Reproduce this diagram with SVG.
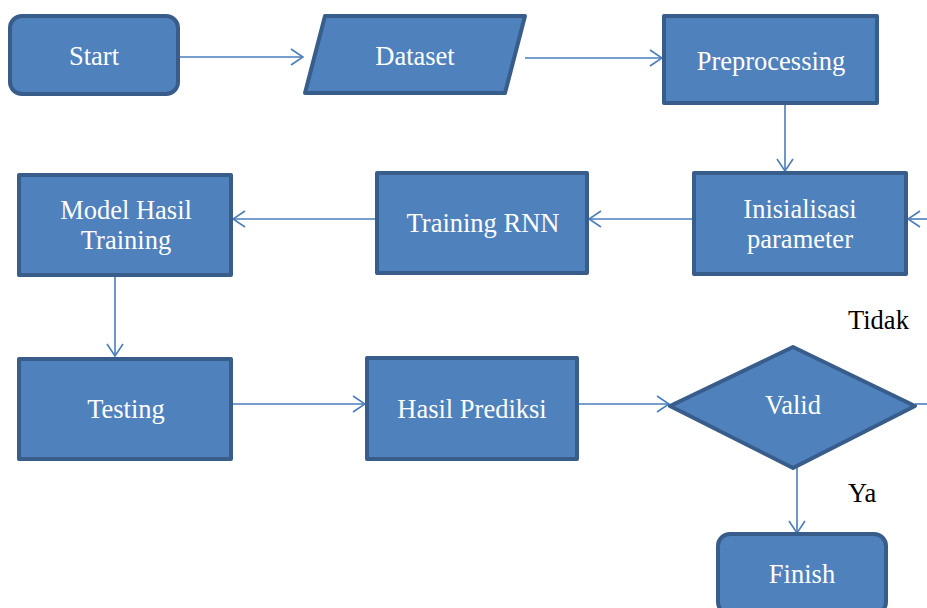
<svg xmlns="http://www.w3.org/2000/svg" width="927" height="608" viewBox="0 0 927 608">
<defs>
<style>
.n{fill:#4f81bd;stroke:#385d8a;stroke-width:4;stroke-linejoin:round}
.t{font-family:"Liberation Serif","Times New Roman",serif;font-size:26.5px;fill:#ffffff;text-anchor:middle}
.l{font-family:"Liberation Serif","Times New Roman",serif;font-size:26.5px;fill:#000000}
.c{fill:none;stroke:#4a7ebb;stroke-width:1.6}
</style>
<marker id="a" markerUnits="userSpaceOnUse" markerWidth="14" markerHeight="18" refX="13" refY="9" orient="auto" viewBox="0 0 14 18">
<path d="M1,1 L13,9 L1,17" fill="none" stroke="#4a7ebb" stroke-width="1.6"/>
</marker>
</defs>
<rect width="927" height="608" fill="#ffffff"/>
<g id="connectors">
<line class="c" x1="178" y1="57" x2="303" y2="57" marker-end="url(#a)"/>
<line class="c" x1="525" y1="58" x2="662" y2="58" marker-end="url(#a)"/>
<line class="c" x1="785" y1="104" x2="785" y2="171" marker-end="url(#a)"/>
<line class="c" x1="927" y1="219" x2="908" y2="219" marker-end="url(#a)"/>
<line class="c" x1="693" y1="219" x2="589" y2="219" marker-end="url(#a)"/>
<line class="c" x1="376" y1="219" x2="233" y2="219" marker-end="url(#a)"/>
<line class="c" x1="115" y1="276" x2="115" y2="356" marker-end="url(#a)"/>
<line class="c" x1="232" y1="404" x2="365" y2="404" marker-end="url(#a)"/>
<line class="c" x1="578" y1="404" x2="669" y2="404" marker-end="url(#a)"/>
<line class="c" x1="915" y1="404" x2="927" y2="404"/>
<line class="c" x1="797" y1="468" x2="797" y2="533" marker-end="url(#a)"/>
</g>
<g id="start"><rect class="n" x="10" y="16" width="168" height="78" rx="12"/><text class="t" x="94" y="65">Start</text></g>
<g id="dataset"><polygon class="n" points="325,16 525,16 505,93 305,93"/><text class="t" x="415" y="65">Dataset</text></g>
<g id="preprocessing"><rect class="n" x="664" y="16" width="213" height="87"/><text class="t" x="771" y="70">Preprocessing</text></g>
<g id="inisialisasi"><rect class="n" x="694" y="173" width="212" height="101"/><text class="t" x="800" y="218">Inisialisasi</text><text class="t" x="800" y="248">parameter</text></g>
<g id="training-rnn"><rect class="n" x="377" y="173" width="210" height="100"/><text class="t" x="483" y="232">Training RNN</text></g>
<g id="model"><rect class="n" x="19" y="175" width="212" height="100"/><text class="t" x="126" y="219">Model Hasil</text><text class="t" x="126" y="249">Training</text></g>
<g id="testing"><rect class="n" x="19" y="359" width="212" height="100"/><text class="t" x="126" y="418">Testing</text></g>
<g id="hasil-prediksi"><rect class="n" x="367" y="358" width="210" height="101"/><text class="t" x="472" y="418">Hasil Prediksi</text></g>
<g id="valid"><polygon class="n" points="670,406 793,347 915,406 793,468"/><text class="t" x="793" y="414">Valid</text></g>
<g id="finish"><rect class="n" x="718" y="534" width="168" height="80" rx="12"/><text class="t" x="802" y="583">Finish</text></g>
<text class="l" x="848" y="329">Tidak</text>
<text class="l" x="848" y="502">Ya</text>
</svg>
